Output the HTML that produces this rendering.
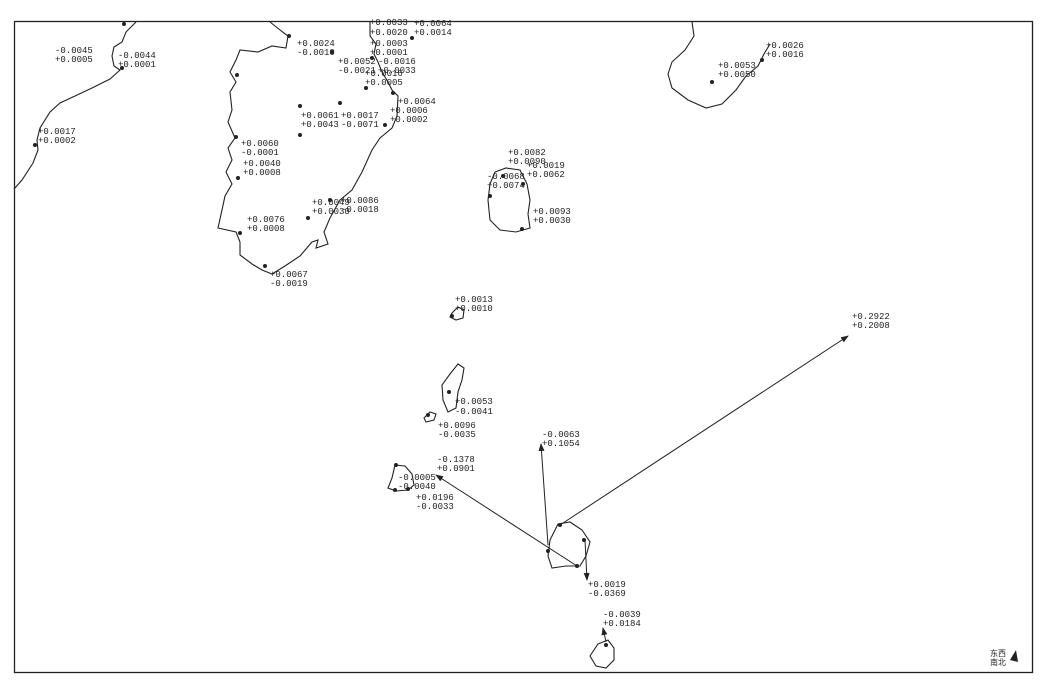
<!DOCTYPE html>
<html><head><meta charset="utf-8"><style>
html,body{margin:0;padding:0;background:#fff;}
svg{display:block;}
text{font-family:"Liberation Mono","Noto Sans CJK SC",monospace;font-size:9px;fill:#222;}
</style></head><body>
<svg width="1042" height="692" viewBox="0 0 1042 692" xmlns="http://www.w3.org/2000/svg">
<defs><marker id="ah" markerWidth="8" markerHeight="6" refX="7" refY="3" orient="auto"><path d="M0,0 L8,3 L0,6 Z" fill="#222"/></marker></defs>
<rect x="14.5" y="21.5" width="1018" height="651" fill="none" stroke="#222" stroke-width="1.3"/>
<g fill="none" stroke="#222" stroke-width="1.1">
<path d="M14,189 L22,180 L33,163 L38,150 L37,140 L40,128 L50,112 L60,103 L75,96 L92,88 L110,79 L120,70 L114,66 L112,56 L114,47 L122,42 L126,32 L132,26 L136,22"/>
<path d="M270,22 L280,30 L288,36 L286,48 L272,46 L258,52 L240,50 L236,60 L230,72 L236,82 L230,92 L232,110 L228,122 L235,138 L228,148 L232,160 L226,172 L232,184 L225,196 L222,210 L218,228 L236,232 L240,242 L240,255 L252,264 L262,270 L272,274 L285,266 L300,256 L312,242 L318,240 L316,248 L328,244 L324,232 L330,218 L340,200 L352,190 L362,172 L372,150 L380,138 L392,128 L397,116 L398,96 L392,90 L388,82 L382,72 L378,62 L374,54 L376,44 L370,36 L370,22"/>
<path d="M692,22 L694,36 L685,50 L672,62 L668,74 L672,88 L688,100 L706,108 L722,104 L736,90 L746,76 L758,66 L764,54 L770,44"/>
<path d="M495,172 L506,168 L520,170 L527,184 L530,200 L528,214 L530,228 L516,232 L500,230 L490,220 L488,200 L490,184 Z"/>
<path d="M452,313 L458,307 L464,310 L463,318 L456,320 L450,317 Z"/>
<path d="M458,364 L464,368 L462,380 L458,392 L456,408 L448,412 L443,400 L442,385 L450,374 Z"/>
<path d="M424,418 L430,412 L436,414 L434,420 L426,422 Z"/>
<path d="M395,465 L405,466 L412,474 L414,485 L408,490 L396,491 L388,488 L392,478 Z"/>
<path d="M558,524 L570,522 L582,530 L590,542 L586,556 L580,566 L566,566 L552,568 L548,556 L550,540 Z"/>
<path d="M598,644 L608,640 L614,648 L614,660 L606,668 L596,666 L590,656 Z"/>
</g>
<g stroke="#222" stroke-width="1" marker-end="url(#ah)">
<line x1="560" y1="525" x2="848" y2="336"/>
<line x1="577" y1="566" x2="436" y2="475"/>
<line x1="548" y1="545" x2="541" y2="444"/>
<line x1="585" y1="540" x2="587" y2="580"/>
<line x1="606" y1="642" x2="603" y2="628"/>
</g>
<g fill="#222">
<circle cx="124" cy="24" r="2"/><circle cx="122" cy="68" r="2"/><circle cx="35" cy="145" r="2"/>
<circle cx="237" cy="75" r="2"/><circle cx="236" cy="137" r="2"/><circle cx="238" cy="178" r="2"/>
<circle cx="240" cy="233" r="2"/><circle cx="265" cy="266" r="2"/><circle cx="308" cy="218" r="2"/>
<circle cx="330" cy="200" r="2"/><circle cx="300" cy="135" r="2"/><circle cx="300" cy="106" r="2"/>
<circle cx="340" cy="103" r="2"/><circle cx="385" cy="125" r="2"/><circle cx="393" cy="93" r="2"/>
<circle cx="366" cy="88" r="2"/><circle cx="332" cy="52" r="2"/><circle cx="289" cy="36" r="2"/>
<circle cx="412" cy="38" r="2"/><circle cx="372" cy="58" r="2"/>
<circle cx="712" cy="82" r="2"/><circle cx="762" cy="60" r="2"/>
<circle cx="490" cy="196" r="2"/><circle cx="503" cy="176" r="2"/><circle cx="523" cy="184" r="2"/><circle cx="522" cy="229" r="2"/>
<circle cx="452" cy="316" r="2"/><circle cx="449" cy="392" r="2"/><circle cx="428" cy="415" r="2"/>
<circle cx="396" cy="465" r="2"/><circle cx="395" cy="490" r="2"/><circle cx="408" cy="489" r="2"/>
<circle cx="560" cy="525" r="2"/><circle cx="548" cy="551" r="2"/><circle cx="577" cy="566" r="2"/><circle cx="584" cy="540" r="2"/>
<circle cx="606" cy="645" r="2"/>
</g>
<g>
<text x="55" y="53">-0.0045</text><text x="55" y="62">+0.0005</text>
<text x="118" y="58">-0.0044</text><text x="118" y="67">+0.0001</text>
<text x="38" y="134">+0.0017</text><text x="38" y="143">+0.0002</text>
<text x="297" y="46">+0.0024</text><text x="297" y="55">-0.0010</text>
<text x="370" y="25">+0.0033</text><text x="370" y="35">+0.0020</text>
<text x="414" y="26">+0.0064</text><text x="414" y="35">+0.0014</text>
<text x="370" y="46">+0.0003</text><text x="370" y="55">+0.0001</text>
<text x="338" y="64">+0.0052</text><text x="338" y="73">-0.0021</text>
<text x="378" y="64">-0.0016</text><text x="378" y="73">+0.0033</text>
<text x="365" y="76">+0.0016</text><text x="365" y="85">+0.0005</text>
<text x="398" y="104">+0.0064</text><text x="390" y="113">+0.0006</text><text x="390" y="122">+0.0002</text>
<text x="301" y="118">+0.0061</text><text x="301" y="127">+0.0043</text>
<text x="341" y="118">+0.0017</text><text x="341" y="127">-0.0071</text>
<text x="241" y="146">+0.0060</text><text x="241" y="155">-0.0001</text>
<text x="243" y="166">+0.0040</text><text x="243" y="175">+0.0008</text>
<text x="312" y="205">+0.0049</text><text x="312" y="214">+0.0030</text>
<text x="341" y="203">+0.0086</text><text x="341" y="212">-0.0018</text>
<text x="247" y="222">+0.0076</text><text x="247" y="231">+0.0008</text>
<text x="270" y="277">+0.0067</text><text x="270" y="286">-0.0019</text>
<text x="508" y="155">+0.0082</text><text x="508" y="164">+0.0090</text>
<text x="527" y="168">+0.0019</text><text x="527" y="177">+0.0062</text>
<text x="487" y="179">-0.0068</text><text x="487" y="188">+0.0074</text>
<text x="533" y="214">+0.0093</text><text x="533" y="223">+0.0030</text>
<text x="766" y="48">+0.0026</text><text x="766" y="57">+0.0016</text>
<text x="718" y="68">+0.0053</text><text x="718" y="77">+0.0050</text>
<text x="455" y="302">+0.0013</text><text x="455" y="311">+0.0010</text>
<text x="852" y="319">+0.2922</text><text x="852" y="328">+0.2008</text>
<text x="455" y="404">+0.0053</text><text x="455" y="414">-0.0041</text>
<text x="438" y="428">+0.0096</text><text x="438" y="437">-0.0035</text>
<text x="542" y="437">-0.0063</text><text x="542" y="446">+0.1054</text>
<text x="437" y="462">-0.1378</text><text x="437" y="471">+0.0901</text>
<text x="398" y="480">-0.0005</text><text x="398" y="489">-0.0040</text>
<text x="416" y="500">+0.0196</text><text x="416" y="509">-0.0033</text>
<text x="588" y="587">+0.0019</text><text x="588" y="596">-0.0369</text>
<text x="603" y="617">-0.0039</text><text x="603" y="626">+0.0184</text>
<text x="990" y="656" style="font-size:8px">东西</text><text x="990" y="665" style="font-size:8px">南北</text>
</g>
<path d="M1010,660 L1016,650 L1018,662 Z" fill="#222"/>
</svg>
</body></html>
